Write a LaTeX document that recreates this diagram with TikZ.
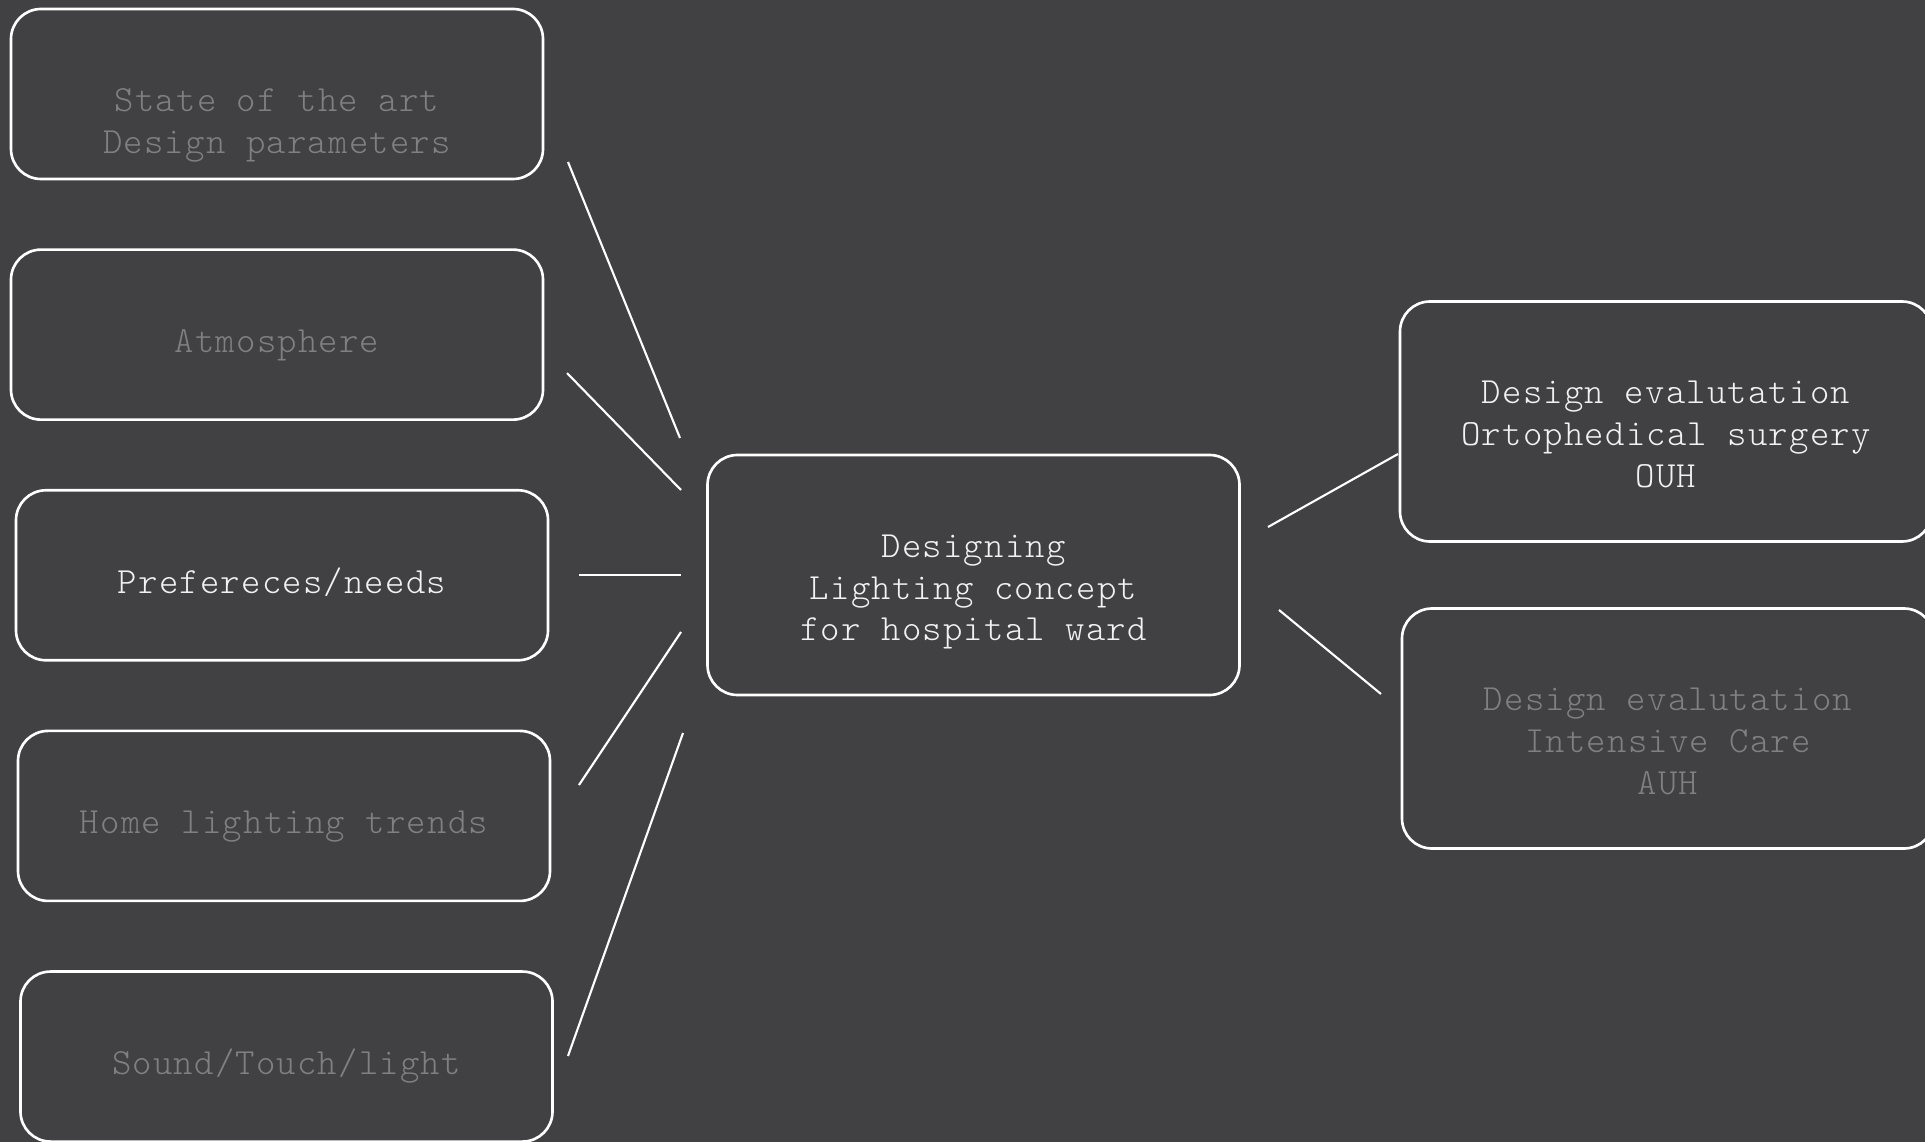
\documentclass[tikz,border=0pt]{standalone}
\usepackage{fontspec}
\setmonofont{Latin Modern Mono Light}[LetterSpace=3.3]
\usepackage{tikz}
\usetikzlibrary{positioning}

\definecolor{bgcol}{HTML}{414143}
\definecolor{dimtxt}{HTML}{808080}
\definecolor{brighttxt}{HTML}{F2F2F2}

\begin{document}
\begin{tikzpicture}[x=0.2mm, y=-0.2mm,
	   font=\ttfamily\fontsize{21}{23.7}\selectfont,
	   box/.style={draw=white, line width=1.5pt, rounded corners=6mm, align=center,
	               minimum width=106.4mm, minimum height=34mm, inner sep=2pt,
	               text height=26.2pt, text depth=6pt},
	   two/.style={box, text height=73.6pt, text depth=6pt},
	   tall/.style={box, minimum height=48mm, text height=80.8pt, text depth=6pt},
	   dim/.style={text=dimtxt},
	   lit/.style={text=brighttxt},
	   wire/.style={draw=white, line width=1.2pt}]
	  \useasboundingbox (0,0) rectangle (1925,1142);
	  \fill[bgcol] (0,0) rectangle (1925,1142);
	  % inputs
	  \node[two, dim] (n1) at (277,94) {State of the art\\Design parameters};
	  \node[box, dim, below=13.6mm of n1] (n2) {Atmosphere};
	  \node[box, lit, below=13.6mm of n2, xshift=1mm] (n3) {Prefereces/needs};
	  \node[box, dim, below=13.6mm of n3, xshift=0.4mm] (n4) {Home lighting trends};
	  \node[box, dim, below=13.6mm of n4, xshift=0.5mm] (n5) {Sound/Touch/light};
	  % concept
	  \node[tall, lit] (c) at (973.5,575) {Designing\\Lighting concept\\for hospital ward};
	  % evaluations
	  \node[tall, lit] (e1) at (1666,421.5) {Design evalutation\\Ortophedical surgery\\OUH};
	  \node[tall, dim] (e2) at (1668,728.5) {Design evalutation\\Intensive Care\\AUH};
	  % loose line ends
	  \coordinate (a1) at (568,162);  \coordinate (b1) at (680,438);
	  \coordinate (a2) at (567,373);  \coordinate (b2) at (681,490);
	  \coordinate (a3) at (579,575);  \coordinate (b3) at (681,575);
	  \coordinate (a4) at (579,785);  \coordinate (b4) at (681,632);
	  \coordinate (a5) at (568,1056); \coordinate (b5) at (683,733);
	  \coordinate (r1) at (1268,527); \coordinate (s1) at (1398,454);
	  \coordinate (r2) at (1279,610); \coordinate (s2) at (1381,694);
	  \draw[wire] (a1)--(b1); \draw[wire] (a2)--(b2); \draw[wire] (a3)--(b3);
	  \draw[wire] (a4)--(b4); \draw[wire] (a5)--(b5);
	  \draw[wire] (r1)--(s1); \draw[wire] (r2)--(s2);
	\end{tikzpicture}
\end{document}
